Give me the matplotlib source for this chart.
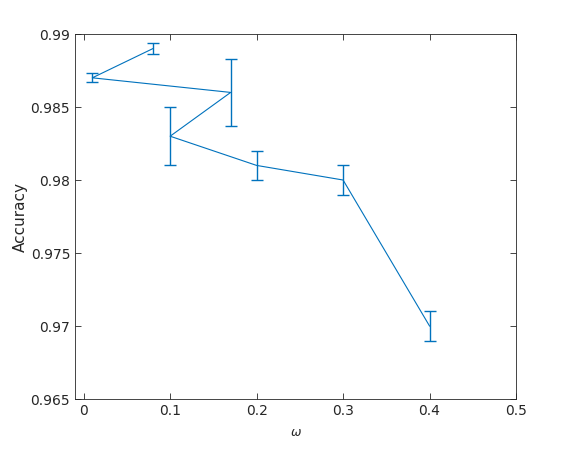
import matplotlib.pyplot as plt
import numpy as np

# omega values in the order they were plotted
omega = [0.08, 0.01, 0.17, 0.10, 0.20, 0.30, 0.40]
acc = [0.989, 0.987, 0.986, 0.983, 0.981, 0.980, 0.970]
err = [0.0004, 0.0003, 0.0023, 0.002, 0.001, 0.001, 0.001]

blue = '#0072BD'
grey = '#262626'

fig = plt.figure(figsize=(5.7, 4.5), dpi=100)
ax = fig.add_axes([0.1316, 0.1133, 0.7737, 0.8111])
ax.errorbar(omega, acc, yerr=err, color=blue, ecolor=blue, lw=0.8,
            elinewidth=1.0, capsize=4, capthick=1.0)

ax.set_xlim(-0.01, 0.5)
ax.set_ylim(0.965, 0.99)
ax.set_xticks(np.arange(0, 0.51, 0.1))
ax.set_xticklabels(['0', '0.1', '0.2', '0.3', '0.4', '0.5'])
ax.set_yticks(np.arange(0.965, 0.9901, 0.005))
ax.set_yticklabels(['0.965', '0.97', '0.975', '0.98', '0.985', '0.99'])
ax.tick_params(direction='in', top=True, right=True, colors=grey,
               labelsize=10, length=4, width=0.6)
for s in ax.spines.values():
    s.set_color(grey)
    s.set_linewidth(0.6)
ax.set_xlabel(r'$\omega$', color=grey, fontsize=9, labelpad=6)
ax.set_ylabel('Accuracy', color=grey, fontsize=11, labelpad=2)

fig.savefig('out.png', dpi=100)
